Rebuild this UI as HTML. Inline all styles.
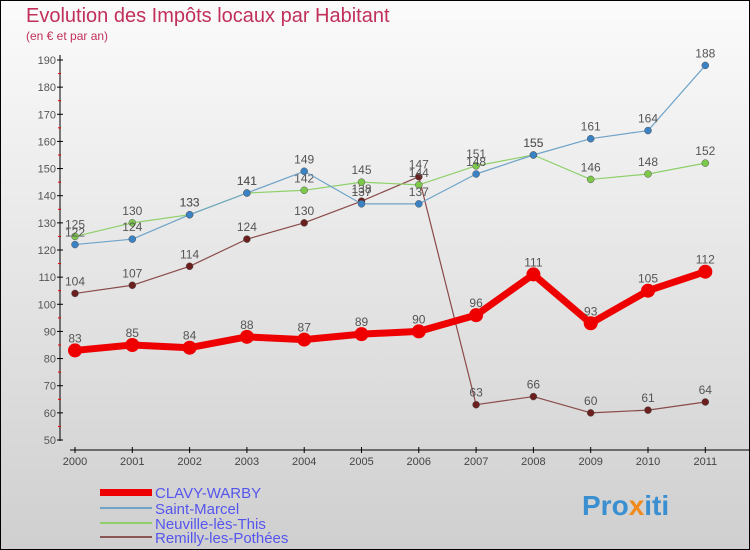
<!DOCTYPE html>
<html><head><meta charset="utf-8"><style>
body{margin:0;width:750px;height:550px;overflow:hidden;font-family:"Liberation Sans",sans-serif}
svg{display:block}
</style></head><body>
<svg width="750" height="550" id="c">
<defs><linearGradient id="bg" x1="0" y1="0" x2="0" y2="1"><stop offset="0" stop-color="#fbfbfb"/><stop offset="1" stop-color="#cfcfcf"/></linearGradient></defs>
<rect x="0.5" y="0.5" width="749" height="549" fill="url(#bg)" stroke="#000"/>
<text x="26" y="22" font-size="20" fill="#c0305a">Evolution des Impôts locaux par Habitant</text>
<text x="26" y="40" font-size="12" fill="#c0305a">(en € et par an)</text>
<g id="axes"></g>
<g id="series"></g>
<g>
<rect x="100" y="489" width="52" height="7" fill="#e00"/>
<text x="155" y="498" font-size="15" fill="#5555ee">CLAVY-WARBY</text>
<line x1="100" y1="508" x2="152" y2="508" stroke="#6fa3c8" stroke-width="2"/>
<text x="155" y="514" font-size="15" fill="#5555ee">Saint-Marcel</text>
<line x1="100" y1="523" x2="152" y2="523" stroke="#8ed06a" stroke-width="2"/>
<text x="155" y="529" font-size="15" fill="#5555ee">Neuville-lès-This</text>
<line x1="100" y1="537" x2="152" y2="537" stroke="#8a5656" stroke-width="2"/>
<text x="155" y="543" font-size="15" fill="#5555ee">Remilly-les-Pothées</text>
</g>
<text x="582" y="515" font-size="28" font-weight="bold" fill="#3a8fd0">Pro<tspan fill="#f08a1c">x</tspan>iti</text>
</svg>
<script>
const years=["2000","2001","2002","2003","2004","2005","2006","2007","2008","2009","2010","2011"];
const yTicks=[50,60,70,80,90,100,110,120,130,140,150,160,170,180,190];
const clavy=[83,85,84,88,87,89,90,96,111,93,105,112];
const saintMarcel=[122,124,133,141,149,137,137,148,155,161,164,188];
const neuville=[125,130,133,141,142,145,144,151,155,146,148,152];
const remilly=[104,107,114,124,130,138,147,63,66,60,61,64];
const NS="http://www.w3.org/2000/svg";
const X=i=>75+i*57.3;
const Y=v=>440-(v-50)*(380/140);
function mk(t,a,p){const e=document.createElementNS(NS,t);for(const k in a)e.setAttribute(k,a[k]);p.appendChild(e);return e;}
const ax=document.getElementById('axes');
let l=mk('line',{x1:60,y1:55,x2:60,y2:441,stroke:'#000'},ax);


l=mk('line',{x1:70,y1:450,x2:750,y2:450,stroke:'#000'},ax);


yTicks.forEach((v,i)=>{
 mk('line',{x1:57,y1:Y(v),x2:63,y2:Y(v),stroke:'#000'},ax);
 if(i<yTicks.length-1)mk('line',{x1:58,y1:Y(v+5),x2:61,y2:Y(v+5),stroke:'#e00'},ax);
 const t=mk('text',{x:56,y:Y(v)+4,'font-size':11,fill:'#555','text-anchor':'end'},ax);t.textContent=v;
 
 
});
years.forEach((y,i)=>{
 mk('line',{x1:X(i),y1:447,x2:X(i),y2:453,stroke:'#000'},ax);
 const t=mk('text',{x:X(i),y:465,'font-size':11,fill:'#444','text-anchor':'middle'},ax);t.textContent=y;
 
 
});
const sg=document.getElementById('series');
function draw(vals,color,w,r,dot,name){
 const g=mk('g',{},sg);
 
 
 const p=mk('polyline',{points:vals.map((v,i)=>X(i)+','+Y(v)).join(' '),fill:'none',stroke:color,'stroke-width':w,'stroke-linejoin':'round'},g);
 
 
 vals.forEach((v,i)=>{
  const c=mk('circle',{cx:X(i),cy:Y(v),r:r,fill:dot,stroke:color==='#e00'?'none':'#555','stroke-width':0.5},g);
  
  
  const t=mk('text',{x:X(i),y:Y(v)-8,'font-size':12,fill:'#555','text-anchor':'middle'},g);t.textContent=v;
  
  
 });
}
draw(remilly,'#8a4a4a',1.2,3.5,'#6b1f1f','remilly');
draw(neuville,'#8ed06a',1.2,3.5,'#7cc84a','neuville');
draw(saintMarcel,'#6fa3c8',1.2,3.5,'#3a82c4','saint-marcel');
draw(clavy,'#e00',7,7,'#e00','clavy');
</script>
</body></html>
